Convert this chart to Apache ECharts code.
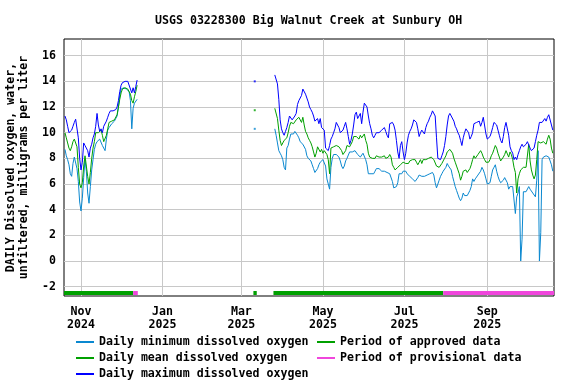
<!DOCTYPE html>
<html><head><meta charset="utf-8">
<script src="https://cdn.jsdelivr.net/npm/echarts@6/dist/echarts.min.js"></script>
<style>html,body{margin:0;padding:0;background:#fff}#c{width:576px;height:384px}</style>
</head><body><div id="c"></div>
<script>
const chartTitle = 'USGS 03228300 Big Walnut Creek at Sunbury OH';
const yTitle = 'DAILY Dissolved oxygen, water,\nunfiltered, milligrams per liter';
const nameMin = 'Daily minimum dissolved oxygen';
const nameMean = 'Daily mean dissolved oxygen';
const nameMax = 'Daily maximum dissolved oxygen';
const nameApproved = 'Period of approved data';
const nameProvisional = 'Period of provisional data';

// Segment 1: daily values starting 2024-10-20
const seg1Start = '2024-10-20';
const seg1Min = [8.7,8.2,7.9,7.5,6.8,6.6,7.6,8.1,8.0,7.2, 6.2,4.6,3.9,4.9,6.5,7.9,7.0,5.3,4.5,5.8, 7.1,7.9,8.7,9.1,9.3,9.4,9.5,9.6,9.0,8.8, 8.6,9.5,10.2,10.4,10.5,10.7,10.8,10.9,11.1,11.3, 12.0,12.9,13.4,13.5,13.5,13.4,13.4,13.3,13.2,12.5, 10.3,11.9,12.3,12.4,12.6];
const seg1Mean = [10.0,9.6,9.2,8.8,8.6,8.9,9.3,9.5,9.6,8.9, 7.3,6.0,5.7,6.1,7.4,8.2,7.4,6.6,6.0,6.9, 8.0,8.8,9.3,10.0,10.1,10.0,10.1,10.2,9.8,9.3, 9.2,9.8,10.3,10.8,10.9,10.9,11.0,11.0,11.0,11.4, 12.0,12.6,13.1,13.4,13.5,13.5,13.5,13.4,13.3,13.0, 12.5,12.3,12.8,13.2,13.7];
const seg1Max = [11.3,11.0,10.5,10.0,10.1,10.2,10.5,10.8,11.05,10.9, 9.6,8.0,7.1,7.7,9.2,9.0,9.1,8.6,8.1,8.8, 9.1,9.6,9.9,10.5,11.5,10.6,10.1,10.3,10.0,10.5, 10.4,10.9,11.2,11.5,11.7,11.6,11.7,11.8,11.8,12.0, 12.5,13.2,13.7,13.9,14.0,14.0,14.05,14.0,13.9,13.4, 13.1,13.5,13.1,13.6,14.1];

// Single isolated day
const loneDate = '2025-03-11';
const loneMin = [10.3];
const loneMean = [11.75];
const loneMax = [14.0];

// Segment 3: daily values starting 2025-03-26
const seg3Start = '2025-03-26';
const seg3Min = [10.3,9.8,9.2,8.6,8.4,8.2,7.9,7.3,7.1,8.8, 9.0,9.5,9.9,10.0,9.9,10.1,10.0,9.8,9.6,9.3, 9.2,9.1,9.0,8.7,8.2,8.0,7.9,7.8,7.5,7.2, 6.9,6.9,7.2,7.5,7.7,7.8,7.9,8.0,7.4,6.4, 6.0,5.6,7.3,8.0,8.3,8.4,8.3,8.2,8.1,7.8, 7.4,7.2,7.4,7.8,8.0,7.9,8.5,8.6,8.5,8.6, 8.6,8.6,8.3,8.4,8.1,8.2,8.4,8.5,7.9,7.5, 6.8,6.8,6.8,6.8,6.8,7.0,7.2,7.3,7.2,7.1, 7.0,7.0,7.0,6.9,6.9,6.8,6.8,6.7,6.2,5.7, 5.7,5.8,6.1,6.8,6.7,6.8,7.0,7.1,7.0,6.8, 6.7,6.6,6.5,6.4,6.3,6.2,6.3,6.5,6.7,6.7, 6.6,6.6,6.6,6.5,6.7,6.8,6.8,6.8,6.9,6.7, 6.1,5.7,6.0,6.3,6.6,6.8,7.0,7.1,7.3,7.6, 7.4,7.5,7.1,6.6,6.2,5.8,5.5,5.2,4.9,4.7, 4.9,5.3,5.1,5.0,5.1,5.3,5.5,5.8,6.4,6.2, 6.4,6.5,6.7,6.8,7.0,7.3,7.1,6.8,6.4,6.0, 6.0,6.1,6.6,7.1,7.3,7.5,7.0,6.6,6.3,6.1, 6.0,6.3,6.5,6.6,6.1,5.6,5.8,5.8,5.8,5.7, 3.7,5.0,5.3,5.8,0.0,1.7,5.4,5.5,5.4,5.5, 5.8,5.6,5.5,5.3,5.2,5.0,6.3,8.6,0.0,2.2, 7.9,8.1,8.1,8.2,8.3,8.1,7.8,7.5,7.0];
const seg3Mean = [11.9,11.8,11.1,10.2,9.4,9.0,9.2,9.4,9.4,9.6, 10.0,10.5,10.8,10.8,10.7,10.6,11.0,11.1,11.2,11.1, 10.8,11.2,10.6,10.1,9.9,9.6,9.4,9.2,8.9,8.5, 8.1,8.4,8.9,8.8,8.5,8.7,8.4,8.6,8.5,8.3, 7.9,6.8,8.8,8.9,8.9,9.0,9.0,8.9,8.9,8.8, 8.6,8.3,8.2,8.6,9.0,9.1,8.9,8.8,9.3,9.7, 9.8,9.7,9.6,9.5,9.8,9.6,9.7,9.9,9.4,9.1, 8.4,8.1,8.0,8.0,8.0,8.0,8.2,8.3,8.1,8.0, 8.1,8.1,8.2,8.0,7.9,8.1,8.3,8.1,7.5,7.3, 7.1,7.2,7.3,7.2,7.5,7.6,7.7,7.8,7.6,7.7, 7.6,7.8,7.9,7.9,8.0,7.9,7.7,7.5,7.7,7.9, 7.6,7.9,7.9,7.9,7.8,8.0,8.1,8.1,8.1,7.9, 7.9,7.4,7.3,7.3,7.4,7.6,7.8,8.0,8.2,8.5, 8.6,8.7,8.6,8.4,8.0,7.7,7.4,7.1,6.8,6.3, 6.6,7.0,6.9,7.1,6.9,6.8,7.2,7.5,7.9,8.2, 8.0,8.0,8.3,8.4,8.6,8.4,8.1,7.9,7.7,7.6, 7.7,7.9,8.2,8.4,8.7,9.0,8.8,8.4,8.1,7.8, 7.9,8.1,8.3,8.6,8.6,8.1,8.5,8.3,7.9,7.3, 6.9,5.3,6.4,6.8,7.1,7.2,7.3,7.4,7.3,7.4, 9.1,7.8,7.1,6.7,6.4,6.7,7.9,9.3,9.4,9.2, 9.2,9.3,9.4,9.1,9.5,9.8,9.5,8.8,8.4];
const seg3Max = [14.5,14.5,13.8,12.6,11.0,10.3,10.0,9.8,10.1,10.4, 10.8,11.3,11.2,11.0,10.9,11.3,11.5,12.2,12.5,12.4, 12.9,13.4,13.3,13.0,12.7,12.4,12.0,11.8,11.6,11.3, 10.9,11.0,11.1,10.7,11.1,10.4,10.3,10.2,8.8,8.7, 8.6,9.0,9.5,9.7,10.0,10.3,10.8,10.9,10.4,10.0, 10.1,10.2,10.5,10.8,10.3,9.7,9.1,9.4,9.9,10.6, 11.4,11.6,11.1,11.2,11.5,10.7,11.6,12.3,12.4,12.0, 11.3,10.7,10.3,9.8,9.6,9.8,10.0,10.1,10.0,9.9, 10.2,10.1,10.4,10.1,9.8,9.6,10.7,10.8,10.8,10.6, 10.2,9.4,8.5,8.0,9.0,9.3,8.5,7.9,8.4,9.2, 9.8,10.1,10.3,10.6,11.0,11.1,10.8,10.3,9.7,10.0, 10.2,10.2,9.9,10.4,10.7,10.9,11.2,11.4,11.7,11.7, 11.3,9.6,8.0,8.0,7.9,8.2,8.5,9.0,9.7,10.6, 11.3,11.5,11.3,11.2,10.9,10.5,10.3,10.0,9.8,9.4, 9.0,9.6,10.0,10.3,10.3,10.0,9.5,9.7,10.0,10.7, 10.8,10.8,10.9,10.9,10.5,10.8,11.2,11.3,9.9,9.5, 9.4,9.7,10.0,10.4,10.8,10.9,10.6,10.2,9.8,9.4, 9.2,9.7,10.4,10.8,10.9,9.8,8.9,8.6,8.4,7.9, 8.1,7.9,8.3,8.6,8.9,9.1,8.9,8.9,9.1,9.3, 9.4,8.8,8.6,8.7,8.8,9.3,9.8,10.2,10.8,10.9, 10.8,10.9,11.1,10.9,11.2,11.4,11.5,10.6,10.2];

// Data-quality periods
const approvedPeriods = [['2024-10-19T06:43','2024-12-10'],['2025-03-10','2025-03-12T12:00'],['2025-03-25','2025-07-30']];
const provisionalPeriods = [['2024-12-10','2024-12-13T12:00'],['2025-07-30','2025-10-21']];
const periodLevel = [-2.49];

// Axes
const xRange = ['2024-10-19T06:43','2025-10-20T21:50'];
const xTickDates = ['2024-11-01','2025-01-01','2025-03-01','2025-05-01','2025-07-01','2025-09-01'];
const xTickLabels = ['Nov\n2024','Jan\n2025','Mar\n2025','May\n2025','Jul\n2025','Sep\n2025'];
const yRange = [-2.725, 17.3];
const yTicks = [-2,0,2,4,6,8,10,12,14,16];

const DAY = 86400000;
const ts = s => Date.parse(s + (s.length === 10 ? 'T00:00:00Z' : 'Z'));
const FONT = 'DejaVu Sans Mono';
const txt = {fontFamily: FONT, fontWeight: 'bold', fontSize: 11.6, color: '#000'};

function daily(seg1, seg3) {
  const out = [];
  const s1 = ts(seg1Start);
  seg1.forEach((v, i) => out.push([s1 + i * DAY, v]));
  out.push([s1 + seg1.length * DAY, null]);
  const s3 = ts(seg3Start);
  seg3.forEach((v, i) => out.push([s3 + i * DAY, v]));
  return out;
}
function periods(list) {
  const out = [];
  list.forEach(p => {
    out.push([ts(p[0]), periodLevel[0]]);
    out.push([ts(p[1]), periodLevel[0]]);
    out.push([ts(p[1]) + 1, null]);
  });
  return out;
}
const xTicks = xTickDates.map(ts);
const colMin = '#0a88d0', colMean = '#00a000', colMax = '#0000ff', colAppr = '#00a000', colProv = '#f046dc';

function lineSeries(name, color, data, w) {
  return {name, type: 'line', data, symbol: 'none', showSymbol: false, connectNulls: false,
    lineStyle: {color, width: w}, itemStyle: {color}, emphasis: {disabled: true}, animation: false};
}
function loneSeries(color, v) {
  return {name: '_lone', type: 'scatter', data: [[ts(loneDate), v]], symbol: 'rect', symbolSize: 2,
    itemStyle: {color}, animation: false, silent: true};
}

const chart = echarts.init(document.getElementById('c'), null, {renderer: 'canvas'});
chart.setOption({
  animation: false,
  backgroundColor: '#fff',
  title: {text: chartTitle, left: 155, top: 15, padding: 0, textStyle: txt},
  grid: {left: 64, right: 22, top: 39, bottom: 88, show: true, borderColor: '#000', borderWidth: 1,
    backgroundColor: 'transparent', outerBoundsMode: 'none', containLabel: false},
  xAxis: {
    type: 'value', min: ts(xRange[0]), max: ts(xRange[1]),
    axisLine: {show: false},
    axisTick: {show: false, customValues: xTicks},
    axisLabel: Object.assign({customValues: xTicks, margin: 9, lineHeight: 13,
      formatter: v => { const i = xTicks.indexOf(v); return i >= 0 ? xTickLabels[i] : ''; }}, txt),
    splitLine: {show: true, lineStyle: {color: '#c8c8c8', width: 1}}
  },
  yAxis: {
    type: 'value', min: yRange[0], max: yRange[1],
    name: yTitle, nameLocation: 'middle', nameRotate: 90, nameGap: 32,
    nameTextStyle: Object.assign({lineHeight: 13.5}, txt),
    axisLine: {show: false},
    axisTick: {show: false, customValues: yTicks},
    axisLabel: Object.assign({customValues: yTicks, margin: 8}, txt),
    splitLine: {show: true, lineStyle: {color: '#c8c8c8', width: 1}}
  },
  legend: [
    {data: [nameMin, nameMean, nameMax], orient: 'vertical', left: 75, top: 335, padding: 0,
      itemWidth: 18, itemHeight: 14, itemGap: 2, selectedMode: false, itemStyle: {opacity: 0},
      textStyle: Object.assign({lineHeight: 14}, txt)},
    {data: [nameApproved, nameProvisional], orient: 'vertical', left: 316, top: 335, padding: 0,
      itemWidth: 18, itemHeight: 14, itemGap: 2, selectedMode: false, itemStyle: {opacity: 0},
      textStyle: Object.assign({lineHeight: 14}, txt)}
  ],
  series: [
    lineSeries(nameMin, colMin, daily(seg1Min, seg3Min), 1),
    lineSeries(nameMean, colMean, daily(seg1Mean, seg3Mean), 1),
    lineSeries(nameMax, colMax, daily(seg1Max, seg3Max), 1),
    loneSeries(colMin, loneMin[0]),
    loneSeries(colMean, loneMean[0]),
    loneSeries(colMax, loneMax[0]),
    lineSeries(nameApproved, colAppr, periods(approvedPeriods), 4),
    lineSeries(nameProvisional, colProv, periods(provisionalPeriods), 4)
  ]
});
</script></body></html>
